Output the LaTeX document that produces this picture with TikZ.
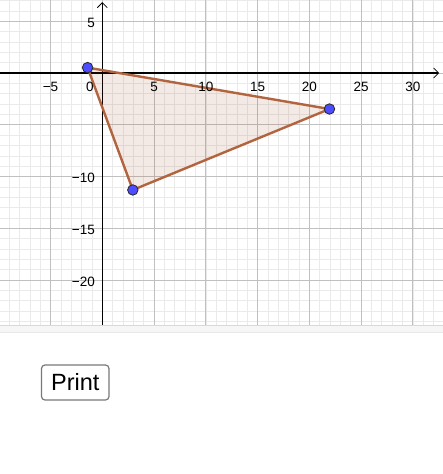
\documentclass[tikz,border=0pt]{standalone}
\usepackage{fontspec}
\setmainfont{Liberation Sans}
\usetikzlibrary{arrows.meta}
\definecolor{minorgrid}{RGB}{234,234,234}
\definecolor{majorgrid}{RGB}{192,192,192}
\definecolor{polyline}{RGB}{178,100,62}
\definecolor{polyfill}{RGB}{153,51,0}
\definecolor{ptblue}{RGB}{77,77,255}
\definecolor{ptedge}{RGB}{40,40,40}
\definecolor{btngray}{RGB}{120,120,120}
\tikzset{
  ticklabel/.style={font=\fontsize{13.5}{13.5}\selectfont, inner sep=0pt},
  ptdot/.style={circle, fill=ptblue, draw=ptedge, line width=0.8pt, minimum size=10.5pt, inner sep=0pt},
  axisline/.style={black, line width=1.1pt, -{Straight Barb[length=5pt,width=10pt,line width=0.8pt]}},
  btn/.style={draw=btngray, rounded corners=3.5pt, line width=1.2pt, minimum width=67.5pt, minimum height=35pt, inner sep=0pt, font=\fontsize{23.5}{23.5}\selectfont}
}
\begin{document}
\begin{tikzpicture}[x=1pt,y=-1pt]
\useasboundingbox (0,0) rectangle (443,474);
\fill[white] (0,0) rectangle (443,474);
\begin{scope}[shift={(102.3,73)}, x=10.35pt, y=10.35pt]
  \begin{scope}
    \clip (-9.9,7.06) rectangle (32.92,-24.3);
    \draw[minorgrid, line width=0.6pt] (-10,-25) grid[step=1] (33,8);
    \draw[majorgrid, line width=0.9pt] (-10,-25) grid[step=5] (33,8);
  \end{scope}
  % axes
  \draw[axisline] (-9.9,0) -- (32.55,0);
  \draw[axisline] (0,-24.3) -- (0,6.85);
  % polygon
  \coordinate (A) at (-1.42,0.52);
  \coordinate (B) at (2.95,-11.3);
  \coordinate (C) at (21.95,-3.48);
  \fill[polyfill, fill opacity=0.1] (A) -- (B) -- (C) -- cycle;
  \draw[polyline, line width=2.4pt, line join=round] (A) -- (B) -- (C) -- cycle;
  % tick labels
  \foreach \k/\t in {-5/−5,5/5,10/10,15/15,20/20,25/25,30/30}
    \node[ticklabel] (xl\k) at (\k,-1.35) {\t};
  \node[ticklabel] (xl0) at (-1.19,-1.35) {0};
  \foreach \k/\t in {5/5,-10/−10,-15/−15,-20/−20}
    \node[ticklabel, anchor=east] (yl\k) at (-0.7,\k-0.15) {\t};
  % points
  \node[ptdot] (pA) at (A) {};
  \node[ptdot] (pB) at (B) {};
  \node[ptdot] (pC) at (C) {};
\end{scope}
% bottom strip of the graphics view
\fill[gray!7] (0,324.5) rectangle (443,332);
\draw[gray!30, line width=0.8pt] (0,325) -- (443,325);
\draw[gray!18, line width=0.8pt] (0,332) -- (443,332);
% print button
\node[btn] (print) at (75.25,382.5) {Print};
\end{tikzpicture}
\end{document}
